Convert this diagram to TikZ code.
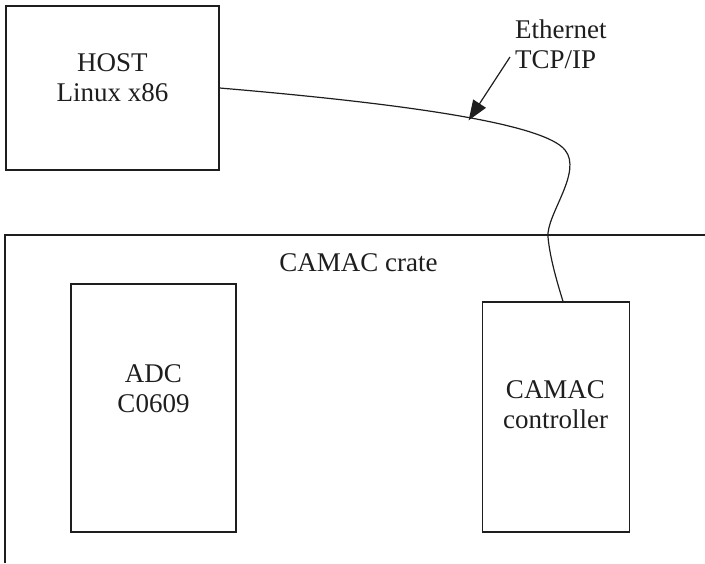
\documentclass[tikz,border=0pt]{standalone}
\usepackage{fontspec}
\setmainfont{Liberation Serif}
\usepackage{xcolor}
\usetikzlibrary{positioning, arrows.meta}
\definecolor{linegrey}{HTML}{1E1E1E}

\tikzset{
  unitbox/.style={draw=linegrey, line width=1.2pt, inner sep=0pt},
  unittext/.style={inner sep=0pt, align=center, text=linegrey,
                   font=\fontsize{27}{30}\selectfont},
  cable/.style={draw=linegrey, line width=1.2pt}
}

\begin{document}
\begin{tikzpicture}[x=1pt, y=-1pt]
  \useasboundingbox (0,0) rectangle (705,563);

  % crate outline (runs off the page right and bottom)
  \draw[linegrey, line width=1.2pt] (5,563) -- (5,235) -- (705,235);
  \node[unittext] (cratelbl) at (358.5,262.5) {CAMAC crate};

  % boxes
  \node[unitbox, minimum width=213pt, minimum height=164pt] (host) at (112.5,88) {};
  \node[unitbox, minimum width=165pt, minimum height=248pt] (adc) at (153.5,408) {};
  \node[unitbox, minimum width=147pt, minimum height=230pt] (ctrl) at (556,417) {};

  \node[unittext] (hostlbl) at (112.5,78) {HOST\\Linux x86};
  \node[unittext] (adclbl) at (153.5,389) {ADC\\C0609};
  \node[unittext] (ctrllbl) at (555.5,405) {CAMAC\\controller};

  % ethernet cable
  \coordinate (ctrltop) at (ctrl.north -| 563,0);
  \draw[cable] (host.east |- 0,88)
    .. controls (420,105) and (545,125) .. coordinate[pos=0.53] (tip) (565,150)
    .. controls (583,172) and (546,215) .. (548,237)
    .. controls (550,259) and (558,285) .. (ctrltop);

  \node[unittext, align=left, anchor=north west] (ethlbl) at (515,20) {Ethernet\\TCP/IP};
  \coordinate (ethfrom) at (510,57);
  \draw[cable, shorten >=-3pt, -{Triangle[length=20pt, width=15pt]}] (ethfrom) -- (tip);
\end{tikzpicture}
\end{document}
